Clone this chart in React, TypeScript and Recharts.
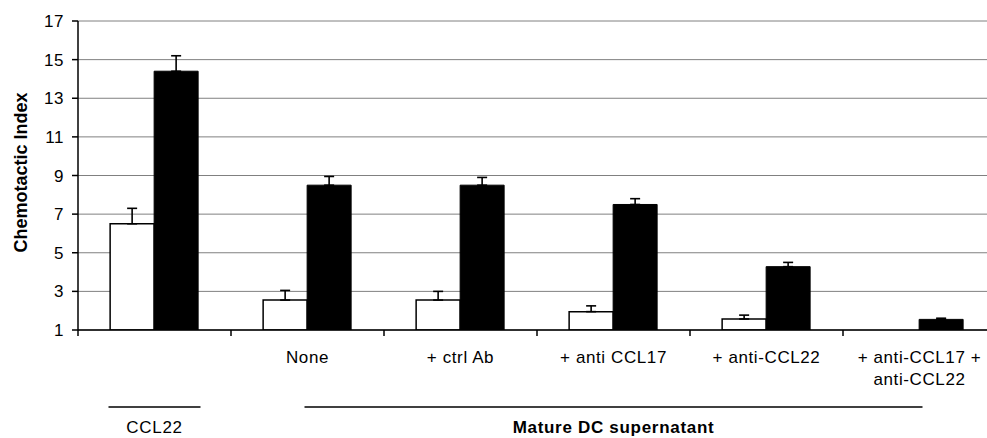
import { BarChart, Bar, XAxis, YAxis, CartesianGrid, ErrorBar } from 'recharts'

const categories = ['', 'None', '+ ctrl Ab', '+ anti CCL17', '+ anti-CCL22', '+ anti-CCL17 +\nanti-CCL22']
const openValues = [6.5, 2.55, 2.55, 1.95, 1.57, 1.0]
const openErrors = [0.8, 0.5, 0.45, 0.3, 0.2, 0.05]
const filledValues = [14.4, 8.5, 8.5, 7.5, 4.28, 1.55]
const filledErrors = [0.8, 0.45, 0.4, 0.3, 0.22, 0.06]
const yTicks = [1, 3, 5, 7, 9, 11, 13, 15, 17]
const groups = [
  { label: 'CCL22', from: 0, to: 0, pad: 46, bold: false },
  { label: 'Mature DC supernatant', from: 1, to: 5, pad: 3, bold: true },
]

const data = categories.map((name, i) => ({
  name,
  open: openValues[i],
  openErr: [0, openErrors[i]],
  filled: filledValues[i],
  filledErr: [0, filledErrors[i]],
}))

const FONT = 'Arial, "Liberation Sans", Helvetica, sans-serif'
const AXIS_W = 78
const PLOT_W = 918
const BAND = PLOT_W / categories.length

// labels under each category, a tick mark on the left border of each band,
// and the group brackets below
const CategoryTick = ({ x, y, payload, index }: any) => {
  const lines = String(payload.value).split('\n')
  const left = x - BAND / 2
  return (
    <g>
      <line x1={left} x2={left} y1={y} y2={y + 6} stroke="#000" strokeWidth={1.5} />
      {lines.map((line, i) => (
        <text
          key={i}
          x={x}
          y={y + 33 + i * 22}
          textAnchor="middle"
          fontSize={17}
          letterSpacing={0.6}
          fontFamily={FONT}
          fill="#000"
        >
          {line}
        </text>
      ))}
      {groups
        .filter(g => g.from === index)
        .map(g => (
          <g key={g.label}>
            <line
              x1={x - g.pad}
              x2={x + (g.to - g.from) * BAND + g.pad}
              y1={y + 77}
              y2={y + 77}
              stroke="#000"
              strokeWidth={1.3}
            />
            <text
              x={x + ((g.to - g.from) * BAND) / 2}
              y={y + 103}
              textAnchor="middle"
              fontSize={17}
              letterSpacing={0.7}
              fontWeight={g.bold ? 'bold' : 'normal'}
              fontFamily={FONT}
              fill="#000"
            >
              {g.label}
            </text>
          </g>
        ))}
    </g>
  )
}

const YLabel = ({ viewBox }: any) => {
  const cx = viewBox.x + 21
  const cy = viewBox.y + viewBox.height / 2 - 3
  return (
    <text
      x={cx}
      y={cy}
      transform={`rotate(-90, ${cx}, ${cy})`}
      textAnchor="middle"
      dominantBaseline="central"
      fontSize={18}
      fontWeight="bold"
      fontFamily={FONT}
      fill="#000"
    >
      Chemotactic Index
    </text>
  )
}

export default function App() {
  return (
    <div style={{ position: 'absolute', left: 0, top: 0, width: 987, height: 438, overflow: 'hidden', background: '#fff' }}>
      <BarChart
        width={AXIS_W + PLOT_W}
        height={438}
        data={data}
        margin={{ top: 21, right: 0, left: 0, bottom: 0 }}
        barGap={0}
        barCategoryGap="21%"
      >
        <CartesianGrid vertical={false} stroke="#808080" strokeWidth={1} />
        <XAxis
          dataKey="name"
          height={108}
          interval={0}
          axisLine={{ stroke: '#000', strokeWidth: 1.5 }}
          tickLine={false}
          tickSize={0}
          tickMargin={0}
          tick={<CategoryTick />}
        />
        <YAxis
          width={AXIS_W}
          domain={[1, 17]}
          ticks={yTicks}
          interval={0}
          tickSize={6}
          tickMargin={8}
          allowDataOverflow
          axisLine={{ stroke: '#000', strokeWidth: 1.5 }}
          tickLine={{ stroke: '#000', strokeWidth: 1.5 }}
          tick={{ fontSize: 17, fill: '#000', fontFamily: FONT, letterSpacing: 0.5 }}
          label={{ content: <YLabel /> }}
        />
        <Bar dataKey="open" fill="#fff" stroke="#000" strokeWidth={1.5} isAnimationActive={false}>
          <ErrorBar dataKey="openErr" width={5} stroke="#000" strokeWidth={1.6} isAnimationActive={false} />
        </Bar>
        <Bar dataKey="filled" fill="#000" stroke="#000" strokeWidth={1} isAnimationActive={false}>
          <ErrorBar dataKey="filledErr" width={5} stroke="#000" strokeWidth={1.6} isAnimationActive={false} />
        </Bar>
      </BarChart>
    </div>
  )
}
